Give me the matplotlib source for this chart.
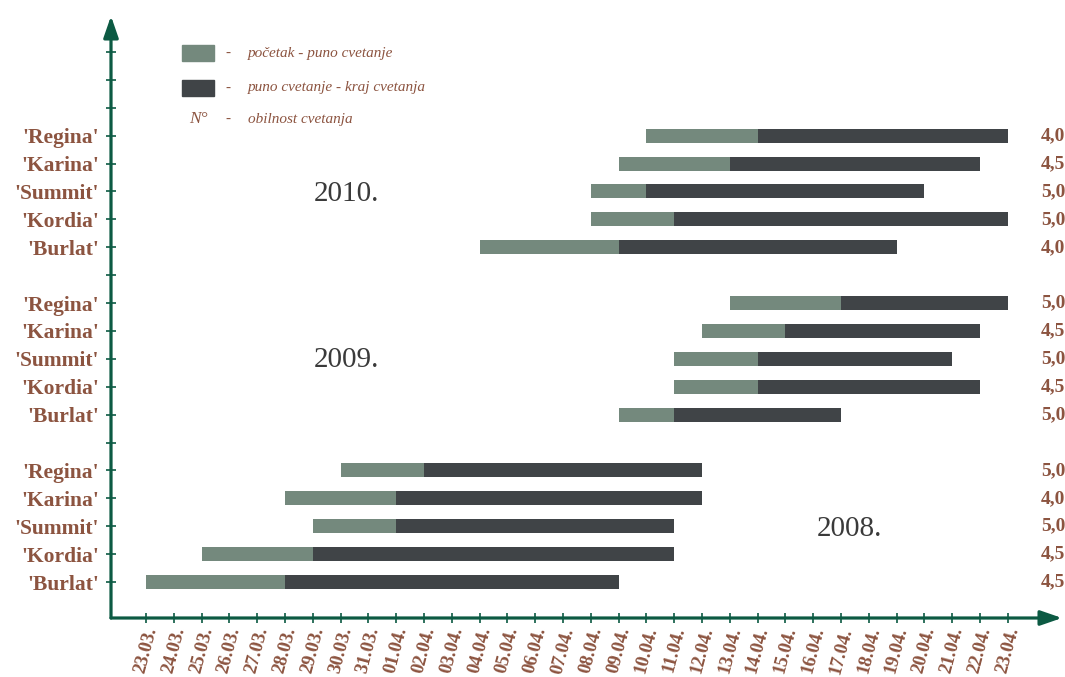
import numpy as np
import matplotlib
matplotlib.use("Agg")
import matplotlib.pyplot as plt
from matplotlib.patches import Rectangle

plt.rcParams['font.family'] = ['Liberation Serif', 'DejaVu Serif']

# x axis: days from 23.03. to 23.04.
dates = ['23.03.', '24.03.', '25.03.', '26.03.', '27.03.', '28.03.', '29.03.', '30.03.', '31.03.',
         '01.04.', '02.04.', '03.04.', '04.04.', '05.04.', '06.04.', '07.04.', '08.04.', '09.04.',
         '10.04.', '11.04.', '12.04.', '13.04.', '14.04.', '15.04.', '16.04.', '17.04.', '18.04.',
         '19.04.', '20.04.', '21.04.', '22.04.', '23.04.']

varieties = ["'Burlat'", "'Kordia'", "'Summit'", "'Karina'", "'Regina'"]
years = ['2008.', '2009.', '2010.']

# pocetak, puno cvetanje, kraj cvetanja (same order as varieties)
start_2008 = ['23.03.', '25.03.', '29.03.', '28.03.', '30.03.']
full_2008 = ['28.03.', '29.03.', '01.04.', '01.04.', '02.04.']
end_2008 = ['09.04.', '11.04.', '11.04.', '12.04.', '12.04.']

start_2009 = ['09.04.', '11.04.', '11.04.', '12.04.', '13.04.']
full_2009 = ['11.04.', '14.04.', '14.04.', '15.04.', '17.04.']
end_2009 = ['17.04.', '22.04.', '21.04.', '22.04.', '23.04.']

start_2010 = ['04.04.', '08.04.', '08.04.', '09.04.', '10.04.']
full_2010 = ['09.04.', '11.04.', '10.04.', '13.04.', '14.04.']
end_2010 = ['19.04.', '23.04.', '20.04.', '22.04.', '23.04.']

# obilnost cvetanja
abund_2008 = [4.5, 4.5, 5.0, 4.0, 5.0]
abund_2009 = [5.0, 4.5, 5.0, 4.5, 5.0]
abund_2010 = [4.0, 5.0, 5.0, 4.5, 4.0]

light = '#74897d'
dark = '#404447'
brown = '#8c5440'
green = '#0c5a43'

fig = plt.figure(figsize=(10.65, 6.77), dpi=100)
ax = fig.add_axes([111 / 1065, 59 / 677, (1062 - 111) / 1065, (618 - 16) / 677])
ax.set_xlim(-1.26, 32.95)
ax.set_ylim(-1.29, 20.29)

def idx(lst):
    return np.array([dates.index(d) for d in lst])

groups = [(start_2008, full_2008, end_2008, abund_2008),
          (start_2009, full_2009, end_2009, abund_2009),
          (start_2010, full_2010, end_2010, abund_2010)]

ylabels = [''] * 20
for g, (s, f, e, ab) in enumerate(groups):
    rows = g * 6 + np.arange(len(varieties))
    s, f, e = idx(s), idx(f), idx(e)
    ax.barh(rows, f - s, left=s, height=0.5, color=light)
    ax.barh(rows, e - f, left=f, height=0.5, color=dark)
    for r, v in zip(rows, ab):
        ax.text(32.2, r, f'{v:.1f}'.replace('.', ','), ha='left', va='center',
                fontsize=14, fontweight='bold', color=brown, clip_on=False)
    for r, name in zip(rows, varieties):
        ylabels[r] = name

# year labels on the 'Summit' rows
ax.text(7.2, 13.9, years[2], ha='center', va='center', fontsize=21, color='#3a3a3a')
ax.text(7.2, 7.95, years[1], ha='center', va='center', fontsize=21, color='#3a3a3a')
ax.text(25.3, 1.9, years[0], ha='center', va='center', fontsize=21, color='#3a3a3a')

ax.set_yticks(np.arange(20))
ax.set_yticklabels(ylabels, fontsize=15.5, fontweight='bold', color=brown)
ax.set_xticks(np.arange(len(dates)))
ax.set_xticklabels(dates, rotation=75, fontsize=13.5, fontweight='bold', color=brown)
ax.tick_params(axis='both', direction='inout', length=7, width=1.2, color=green)
ax.tick_params(axis='y', pad=5)
ax.tick_params(axis='x', pad=2)

for sp in ax.spines.values():
    sp.set_visible(False)
arrow = dict(arrowstyle='-|>,head_length=13,head_width=4.5', color=green, lw=2.3,
             shrinkA=0, shrinkB=0, mutation_scale=1)
ax.annotate('', xy=(1, 0), xytext=(0, 0), xycoords='axes fraction', arrowprops=arrow)
ax.annotate('', xy=(0, 1), xytext=(0, 0), xycoords='axes fraction', arrowprops=arrow)

# legend
leg_items = [(light, 'početak - puno cvetanje', 53), (dark, 'puno cvetanje - kraj cvetanja', 88)]
for col, lab, py in leg_items:
    fig.patches.append(Rectangle((182 / 1065, 1 - (py + 8) / 677), 32 / 1065, 16 / 677,
                                 transform=fig.transFigure, color=col))
    fig.text(228 / 1065, 1 - py / 677, '-', ha='center', va='center', fontsize=11,
             style='italic', color=brown)
    fig.text(248 / 1065, 1 - py / 677, lab, ha='left', va='center', fontsize=11,
             style='italic', color=brown)
fig.text(198 / 1065, 1 - 119 / 677, 'N°', ha='center', va='center', fontsize=12.5,
         style='italic', color=brown)
fig.text(228 / 1065, 1 - 119 / 677, '-', ha='center', va='center', fontsize=11,
         style='italic', color=brown)
fig.text(248 / 1065, 1 - 119 / 677, 'obilnost cvetanja', ha='left', va='center', fontsize=11,
         style='italic', color=brown)

fig.savefig('out.png', dpi=100)
